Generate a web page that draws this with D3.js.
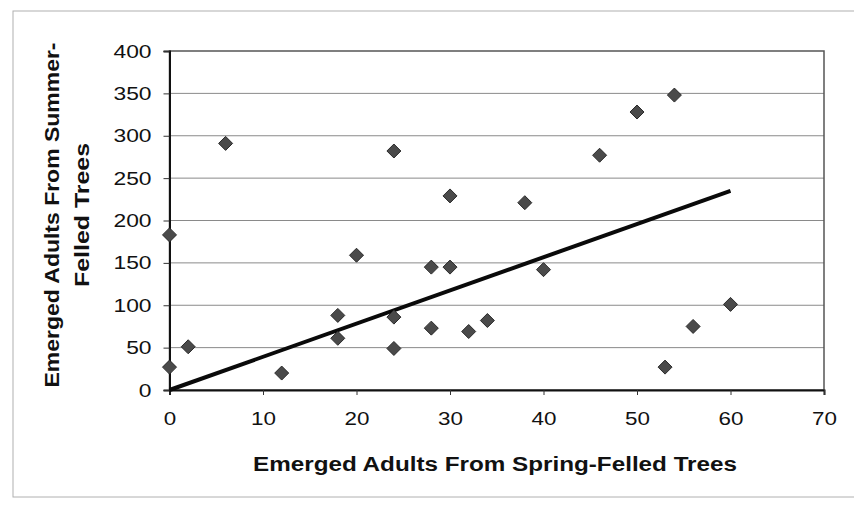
<!DOCTYPE html>
<html>
<head>
<meta charset="utf-8">
<script src="https://cdn.jsdelivr.net/npm/d3@7"></script>
<style>
  body { margin: 0; background: #fff; }
  text { font-family: "Liberation Sans", Arial, sans-serif; fill: #111; }
</style>
</head>
<body>
<script>
// spring-felled (x) vs summer-felled (y) emerged adults
const springAdults = [6, 24, 30, 38, 46, 50, 54, 0, 20, 18, 18, 24, 24, 2, 0, 12, 28, 30, 40, 28, 32, 34, 53, 56, 60];
const summerAdults = [291, 282, 229, 221, 277, 328, 348, 183, 159, 88, 61, 86, 49, 51, 27, 20, 145, 145, 142, 73, 69, 82, 27, 75, 101];
const trendX = [0, 60];
const trendY = [0, 235];
const xTicks = [0, 10, 20, 30, 40, 50, 60, 70];
const yTicks = [0, 50, 100, 150, 200, 250, 300, 350, 400];

const points = springAdults.map((d, i) => ({ x: d, y: summerAdults[i] }));
const trend = trendX.map((d, i) => ({ x: d, y: trendY[i] }));

const W = 854, H = 506;
const plot = { left: 169.5, right: 824, top: 51, bottom: 390 };

const svg = d3.select('body').append('svg')
	.attr('width', W)
	.attr('height', H);

// outer chart frame
svg.append('rect')
	.attr('x', 13).attr('y', 11)
	.attr('width', 860).attr('height', 486)
	.attr('fill', 'none')
	.attr('stroke', '#b0b0b0')
	.attr('stroke-width', 1);

const xScale = d3.scaleLinear().domain([0, 70]).range([plot.left, plot.right]);
const yScale = d3.scaleLinear().domain([0, 400]).range([plot.bottom, plot.top]);

// gridlines
svg.append('g')
	.selectAll('line')
	.data(yTicks.filter(d => d > 0 && d < 400))
	.enter().append('line')
	.attr('x1', plot.left).attr('x2', plot.right)
	.attr('y1', d => yScale(d)).attr('y2', d => yScale(d))
	.attr('stroke', '#8a8a8a')
	.attr('stroke-width', 1);

// plot border
svg.append('rect')
	.attr('x', plot.left).attr('y', plot.top)
	.attr('width', plot.right - plot.left)
	.attr('height', plot.bottom - plot.top)
	.attr('fill', 'none')
	.attr('stroke', '#555')
	.attr('stroke-width', 1.5);

function stretchText(sel, factor) {
	sel.each(function() {
		const len = this.getComputedTextLength();
		d3.select(this)
			.attr('textLength', len * factor)
			.attr('lengthAdjust', 'spacingAndGlyphs');
	});
}

const xAxis = d3.axisBottom(xScale).tickValues(xTicks).tickSize(5).tickPadding(17);
const yAxis = d3.axisLeft(yScale).tickValues(yTicks).tickSize(6).tickPadding(12);

const gx = svg.append('g')
	.attr('transform', `translate(0, ${plot.bottom})`)
	.call(xAxis);
gx.select('.domain').attr('stroke', '#111').attr('stroke-width', 2);
gx.selectAll('.tick line').attr('stroke', '#333');
gx.selectAll('.tick text')
	.style('font-size', '19px')
	.attr('fill', '#111')
	.call(stretchText, 1.18);

const gy = svg.append('g')
	.attr('transform', `translate(${plot.left}, 0)`)
	.call(yAxis);
gy.select('.domain').attr('stroke', '#111').attr('stroke-width', 2);
gy.selectAll('.tick line').attr('stroke', '#333');
gy.selectAll('.tick text')
	.style('font-size', '19px')
	.attr('fill', '#111')
	.call(stretchText, 1.2);

// trendline
svg.append('path')
	.datum(trend)
	.attr('d', d3.line().x(d => xScale(d.x)).y(d => yScale(d.y)))
	.attr('stroke', '#0a0a0a')
	.attr('stroke-width', 4)
	.attr('fill', 'none');

// diamonds
svg.append('g')
	.selectAll('path')
	.data(points)
	.enter().append('path')
	.attr('transform', d => `translate(${xScale(d.x)}, ${yScale(d.y)})`)
	.attr('d', 'M0,-7L7,0L0,7L-7,0Z')
	.attr('fill', '#4a4a4a')
	.attr('stroke', '#2a2a2a')
	.attr('stroke-width', 1);

// axis titles
svg.append('text')
	.attr('x', 253)
	.attr('y', 471)
	.style('font-size', '20px')
	.style('font-weight', 'bold')
	.text('Emerged Adults From Spring-Felled Trees')
	.attr('textLength', 484)
	.attr('lengthAdjust', 'spacingAndGlyphs');

const yTitle = svg.append('g')
	.attr('transform', 'translate(0, 215) rotate(-90)');
yTitle.append('text')
	.attr('x', 0)
	.attr('y', 59)
	.style('font-size', '20px')
	.style('font-weight', 'bold')
	.style('text-anchor', 'middle')
	.text('Emerged Adults From Summer-')
	.attr('textLength', 345)
	.attr('lengthAdjust', 'spacingAndGlyphs');
yTitle.append('text')
	.attr('x', 0)
	.attr('y', 89)
	.style('font-size', '20px')
	.style('font-weight', 'bold')
	.style('text-anchor', 'middle')
	.text('Felled Trees')
	.attr('textLength', 144)
	.attr('lengthAdjust', 'spacingAndGlyphs');
</script>
</body>
</html>
